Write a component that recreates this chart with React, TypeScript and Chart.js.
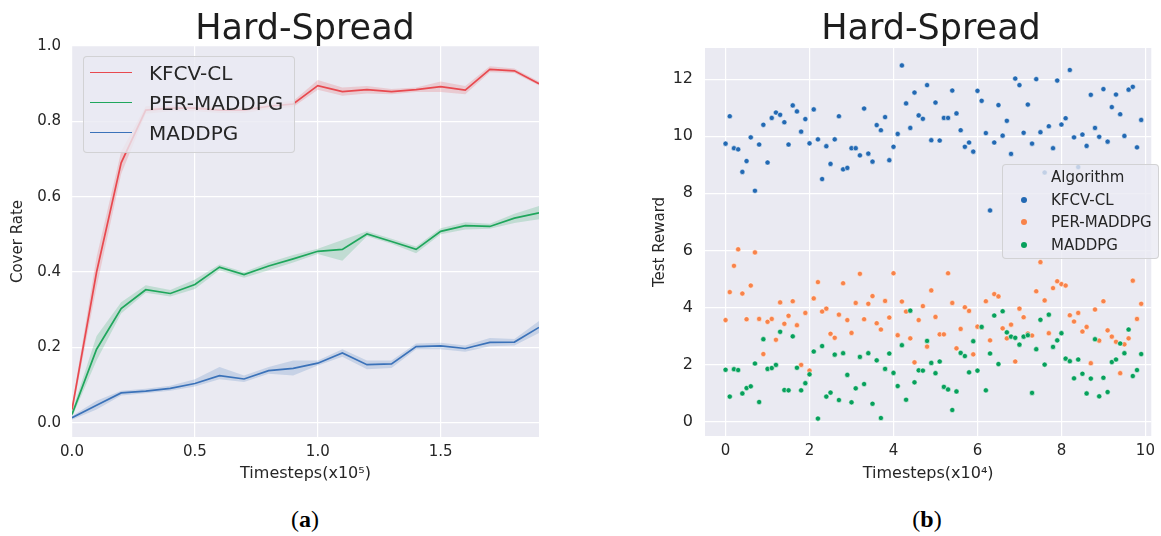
import React, { useEffect, useRef } from "react";
import { Chart, registerables } from "chart.js";

Chart.register(...registerables);

// ---------- Panel (a): Cover Rate vs timesteps (x10^5) ----------
const timestepsA = [0, 0.1, 0.2, 0.3, 0.4, 0.5, 0.6, 0.7, 0.8, 0.9, 1.0, 1.1, 1.2, 1.3, 1.4, 1.5, 1.6, 1.7, 1.8, 1.9];

const kfcvMean = [0.035, 0.40, 0.69, 0.83, 0.835, 0.835, 0.83, 0.83, 0.84, 0.846, 0.895, 0.879, 0.884, 0.879, 0.884, 0.892, 0.883, 0.938, 0.934, 0.90];
const kfcvLow = [0.025, 0.36, 0.66, 0.82, 0.827, 0.827, 0.822, 0.822, 0.832, 0.838, 0.884, 0.868, 0.874, 0.872, 0.878, 0.878, 0.872, 0.93, 0.928, 0.895];
const kfcvHigh = [0.045, 0.44, 0.72, 0.84, 0.843, 0.843, 0.838, 0.838, 0.848, 0.854, 0.91, 0.89, 0.894, 0.886, 0.89, 0.906, 0.894, 0.946, 0.94, 0.906];

const perMean = [0.022, 0.195, 0.303, 0.353, 0.343, 0.367, 0.413, 0.393, 0.416, 0.435, 0.455, 0.46, 0.501, 0.481, 0.46, 0.508, 0.523, 0.521, 0.543, 0.557];
const perLow = [0.015, 0.165, 0.29, 0.345, 0.335, 0.355, 0.405, 0.385, 0.405, 0.425, 0.448, 0.43, 0.495, 0.475, 0.45, 0.50, 0.513, 0.515, 0.53, 0.54];
const perHigh = [0.03, 0.23, 0.32, 0.365, 0.352, 0.38, 0.42, 0.40, 0.425, 0.445, 0.462, 0.485, 0.508, 0.488, 0.468, 0.516, 0.532, 0.528, 0.555, 0.575];

const maddpgMean = [0.013, 0.046, 0.079, 0.084, 0.091, 0.104, 0.125, 0.116, 0.138, 0.144, 0.158, 0.185, 0.154, 0.156, 0.202, 0.204, 0.197, 0.213, 0.214, 0.253];
const maddpgLow = [0.008, 0.035, 0.072, 0.078, 0.085, 0.096, 0.115, 0.108, 0.13, 0.125, 0.152, 0.175, 0.142, 0.145, 0.195, 0.195, 0.188, 0.203, 0.205, 0.238];
const maddpgHigh = [0.018, 0.058, 0.085, 0.09, 0.098, 0.115, 0.148, 0.125, 0.148, 0.165, 0.165, 0.195, 0.165, 0.165, 0.21, 0.212, 0.205, 0.225, 0.222, 0.27];

// ---------- Panel (b): Test Reward scatter vs timesteps (x10^4) ----------
const rewardSteps = [
  0, 0.1, 0.2, 0.3, 0.4, 0.5, 0.6, 0.7, 0.8, 0.9,
  1.0, 1.1, 1.2, 1.3, 1.4, 1.5, 1.6, 1.7, 1.8, 1.9,
  2.0, 2.1, 2.2, 2.3, 2.4, 2.5, 2.6, 2.7, 2.8, 2.9,
  3.0, 3.1, 3.2, 3.3, 3.4, 3.5, 3.6, 3.7, 3.8, 3.9,
  4.0, 4.1, 4.2, 4.3, 4.4, 4.5, 4.6, 4.7, 4.8, 4.9,
  5.0, 5.1, 5.2, 5.3, 5.4, 5.5, 5.6, 5.7, 5.8, 5.9,
  6.0, 6.1, 6.2, 6.3, 6.4, 6.5, 6.6, 6.7, 6.8, 6.9,
  7.0, 7.1, 7.2, 7.3, 7.4, 7.5, 7.6, 7.7, 7.8, 7.9,
  8.0, 8.1, 8.2, 8.3, 8.4, 8.5, 8.6, 8.7, 8.8, 8.9,
  9.0, 9.1, 9.2, 9.3, 9.4, 9.5, 9.6, 9.7, 9.8, 9.9,
];

const kfcvReward = [
  9.74, 10.70, 9.58, 9.54, 8.75, 9.13, 9.96, 8.09, 9.71, 10.40,
  9.08, 10.64, 10.83, 10.75, 10.49, 9.71, 11.08, 10.87, 10.16, 10.60,
  9.75, 10.94, 9.89, 8.50, 9.65, 9.03, 9.89, 10.70, 8.84, 8.89,
  9.58, 9.58, 9.33, 10.97, 9.39, 9.11, 10.39, 10.21, 10.67, 9.16,
  9.63, 10.08, 12.48, 11.15, 10.29, 11.53, 10.73, 10.61, 11.79, 9.86,
  11.18, 9.85, 10.64, 10.64, 11.60, 10.80, 10.21, 9.63, 9.78, 9.46,
  11.59, 11.24, 10.11, 7.40, 9.78, 11.09, 10.02, 10.54, 9.38, 12.02,
  11.79, 10.12, 11.11, 9.74, 12.00, 10.14, 8.73, 10.35, 9.58, 11.95,
  10.41, 10.63, 12.32, 9.96, 8.92, 10.06, 9.66, 11.45, 10.29, 9.98,
  11.65, 9.81, 11.02, 11.46, 10.77, 10.01, 11.63, 11.73, 9.61, 10.57,
];

const perReward = [
  3.56, 4.54, 5.46, 6.04, 4.49, 3.59, 4.77, 5.93, 3.60, 2.37,
  3.50, 3.60, 2.87, 4.18, 3.43, 3.71, 4.22, 3.38, 1.99, 3.81,
  1.79, 4.32, 4.89, 3.86, 3.96, 3.08, 2.94, 3.75, 4.85, 3.56,
  3.11, 4.16, 5.18, 3.59, 4.13, 4.40, 3.45, 3.23, 4.23, 3.65,
  5.20, 3.03, 4.21, 3.86, 2.92, 2.08, 3.56, 4.05, 2.63, 4.60,
  3.67, 3.06, 3.06, 5.20, 4.16, 2.57, 3.25, 4.01, 3.88, 2.36,
  3.33, 3.30, 4.22, 2.85, 4.47, 4.39, 3.27, 2.92, 3.40, 2.11,
  3.96, 3.66, 3.09, 3.02, 4.57, 5.59, 4.25, 3.10, 4.68, 4.92,
  4.82, 4.77, 3.73, 3.51, 3.81, 3.16, 3.32, 2.05, 3.93, 2.84,
  4.22, 3.20, 2.98, 2.80, 1.70, 2.71, 2.92, 4.94, 3.60, 4.13,
];

const maddpgReward = [
  1.82, 0.88, 1.84, 1.81, 0.99, 1.18, 1.24, 2.04, 0.69, 2.89,
  1.85, 1.88, 1.99, 3.15, 1.11, 1.10, 2.99, 1.89, 1.10, 1.35,
  1.66, 2.46, 0.11, 2.65, 0.88, 1.02, 2.35, 0.76, 2.40, 1.64,
  0.68, 1.17, 2.27, 1.32, 2.40, 0.63, 2.15, 0.13, 1.85, 2.39,
  1.71, 1.25, 2.68, 0.77, 3.89, 1.38, 1.80, 1.79, 2.83, 2.06,
  1.70, 2.11, 1.22, 1.13, 0.41, 1.06, 2.41, 2.30, 1.73, 2.82,
  1.79, 3.32, 1.10, 2.39, 3.72, 2.02, 3.87, 3.13, 2.98, 2.94,
  2.70, 2.98, 3.03, 1.01, 2.54, 3.57, 2.00, 3.75, 2.62, 2.85,
  3.10, 2.21, 2.12, 1.52, 2.18, 1.68, 0.99, 1.51, 2.89, 0.89,
  1.54, 1.04, 2.09, 2.18, 2.74, 2.40, 3.23, 1.60, 1.81, 2.37,
];

const seriesNames = ["KFCV-CL", "PER-MADDPG", "MADDPG"];
const lineColors = ["#E8494F", "#1FA65C", "#3B72B9"];
const bandColors = ["rgba(232,73,79,0.2)", "rgba(31,166,92,0.2)", "rgba(59,114,185,0.2)"];
const dotColors = ["#2369B3", "#F8834A", "#07A05C"];

const TXT = "#262626";
const FONT = "DejaVu Sans";

const pts = (xs: number[], ys: number[]) => xs.map((x, i) => ({ x, y: ys[i] }));

const bgPlugin = {
  id: "plotBg",
  beforeDraw(chart: any) {
    const { ctx, chartArea: a } = chart;
    ctx.save();
    ctx.fillStyle = "#EAEAF2";
    ctx.fillRect(a.left, a.top, a.right - a.left, a.bottom - a.top);
    ctx.restore();
  },
};

export default function App() {
  const refA = useRef<HTMLCanvasElement>(null);
  const refB = useRef<HTMLCanvasElement>(null);

  useEffect(() => {
    const means = [kfcvMean, perMean, maddpgMean];
    const lows = [kfcvLow, perLow, maddpgLow];
    const highs = [kfcvHigh, perHigh, maddpgHigh];
    const lineSets: any[] = seriesNames.map((n, i) => ({
      label: n,
      data: pts(timestepsA, means[i]),
      borderColor: lineColors[i],
      borderWidth: 1.7,
      pointRadius: 0,
      tension: 0,
      fill: false,
      order: 1,
    }));
    const bandSets: any[] = [];
    seriesNames.forEach((n, i) => {
      bandSets.push({
        label: n + " upper",
        data: pts(timestepsA, highs[i]),
        borderWidth: 0,
        borderColor: "rgba(0,0,0,0)",
        backgroundColor: bandColors[i],
        pointRadius: 0,
        tension: 0,
        fill: "+1",
        order: 5,
      });
      bandSets.push({
        label: n + " lower",
        data: pts(timestepsA, lows[i]),
        borderWidth: 0,
        borderColor: "rgba(0,0,0,0)",
        pointRadius: 0,
        tension: 0,
        fill: false,
        order: 5,
      });
    });

    const chartA = new Chart(refA.current!, {
      type: "line",
      data: { datasets: [...lineSets, ...bandSets] },
      plugins: [bgPlugin],
      options: {
        animation: false,
        responsive: false,
        maintainAspectRatio: false,
        layout: { padding: { left: 0, top: 46, right: 580 - 539, bottom: 500 - 483 } },
        plugins: { legend: { display: false }, tooltip: { enabled: false }, title: { display: false } },
        scales: {
          x: {
            type: "linear",
            min: 0,
            max: 1.9,
            ticks: {
              stepSize: 0.5,
              includeBounds: false,
              padding: 6,
              color: TXT,
              font: { family: FONT, size: 15 },
              callback: (v: any) => Number(v).toFixed(1),
            },
            grid: { color: "#FFFFFF", lineWidth: 1.2, drawTicks: false },
            border: { display: false },
            title: { display: true, text: "Timesteps(x10\u2075)", color: TXT, font: { family: FONT, size: 16 }, padding: 0 },
            afterFit: (s: any) => { s.height = 46; },
          },
          y: {
            type: "linear",
            min: -0.038,
            max: 1.0,
            ticks: {
              stepSize: 0.2,
              includeBounds: false,
              padding: 11,
              color: TXT,
              font: { family: FONT, size: 15 },
              callback: (v: any) => Number(v).toFixed(1),
            },
            grid: { color: "#FFFFFF", lineWidth: 1.2, drawTicks: false },
            border: { display: false },
            title: { display: true, text: "Cover Rate", color: TXT, font: { family: FONT, size: 15 }, padding: { top: 9, bottom: 0 } },
            afterFit: (s: any) => { s.width = 72; },
          },
        },
      } as any,
    });

    const rewards = [kfcvReward, perReward, maddpgReward];
    const scatterSets: any[] = seriesNames.map((n, i) => ({
      label: n,
      data: pts(rewardSteps, rewards[i]),
      backgroundColor: dotColors[i],
      borderColor: "rgba(255,255,255,0.9)",
      borderWidth: 0.6,
      pointRadius: 2.6,
      order: 3 - i,
    }));

    const chartB = new Chart(refB.current!, {
      type: "scatter",
      data: { datasets: scatterSets },
      plugins: [bgPlugin],
      options: {
        animation: false,
        responsive: false,
        maintainAspectRatio: false,
        layout: { padding: { left: 66, top: 48, right: 3, bottom: 500 - 483 } },
        plugins: { legend: { display: false }, tooltip: { enabled: false }, title: { display: false } },
        scales: {
          x: {
            type: "linear",
            min: -0.49,
            max: 10.14,
            ticks: { stepSize: 2, includeBounds: false, padding: 6, color: TXT, font: { family: FONT, size: 15 } },
            grid: { color: "#FFFFFF", lineWidth: 1.2, drawTicks: false },
            border: { display: false },
            title: { display: true, text: "Timesteps(x10\u2074)", color: TXT, font: { family: FONT, size: 16 }, padding: 0 },
            afterFit: (s: any) => { s.height = 47; },
          },
          y: {
            type: "linear",
            min: -0.5,
            max: 13.09,
            ticks: { stepSize: 2, includeBounds: false, padding: 12, color: TXT, font: { family: FONT, size: 16 } },
            grid: { color: "#FFFFFF", lineWidth: 1.2, drawTicks: false },
            border: { display: false },
            title: { display: true, text: "Test Reward", color: TXT, font: { family: FONT, size: 15 }, padding: { top: 5, bottom: 0 } },
            afterFit: (s: any) => { s.width = 59; },
          },
        },
      } as any,
    });

    return () => {
      chartA.destroy();
      chartB.destroy();
    };
  }, []);

  const abs = (o: any) => ({ position: "absolute", ...o } as React.CSSProperties);

  return (
    <div style={abs({ left: 0, top: 0, width: 1161, height: 536, background: "#FFFFFF", overflow: "hidden", fontFamily: FONT })}>
      <canvas ref={refA} width={580} height={500} style={abs({ left: 0, top: 0 })} />
      <canvas ref={refB} width={581} height={500} style={abs({ left: 580, top: 0 })} />

      <div style={abs({ left: 155, top: 6, width: 300, textAlign: "center", fontSize: 35, lineHeight: "42px", color: "#1E1E1E" })}>Hard-Spread</div>
      <div style={abs({ left: 781, top: 6, width: 300, textAlign: "center", fontSize: 35, lineHeight: "42px", color: "#1E1E1E" })}>Hard-Spread</div>

      {/* Legend (a) */}
      <div style={abs({ left: 83, top: 56, width: 210, height: 95, background: "rgba(234,234,242,0.8)", border: "1px solid rgba(204,204,204,0.8)", borderRadius: 4 })} />
      {seriesNames.map((n, i) => (
        <React.Fragment key={n}>
          <div style={abs({ left: 90, top: 72 + i * 30, width: 42, height: 0, borderTop: `1.7px solid ${lineColors[i]}` })} />
          <div style={abs({ left: 149, top: 61 + i * 30, fontSize: 20, lineHeight: "24px", color: TXT, whiteSpace: "nowrap" })}>{n}</div>
        </React.Fragment>
      ))}

      {/* Legend (b) */}
      <div style={abs({ left: 1002, top: 164, width: 155, height: 93, background: "rgba(234,234,242,0.8)", border: "1px solid rgba(204,204,204,0.8)", borderRadius: 4 })} />
      <div style={abs({ left: 1051, top: 168, fontSize: 15, lineHeight: "18px", color: TXT, whiteSpace: "nowrap" })}>Algorithm</div>
      {seriesNames.map((n, i) => (
        <React.Fragment key={n}>
          <div style={abs({ left: 1021, top: 197 + i * 22.3, width: 6, height: 6, borderRadius: 3, background: dotColors[i] })} />
          <div style={abs({ left: 1051, top: 191 + i * 22.3, fontSize: 15, lineHeight: "18px", color: TXT, whiteSpace: "nowrap" })}>{n}</div>
        </React.Fragment>
      ))}

      {/* Captions */}
      <div style={abs({ left: 255, top: 505, width: 100, textAlign: "center", fontFamily: "Liberation Serif", fontSize: 24, lineHeight: "28px", color: "#000" })}>(<b>a</b>)</div>
      <div style={abs({ left: 877, top: 505, width: 100, textAlign: "center", fontFamily: "Liberation Serif", fontSize: 24, lineHeight: "28px", color: "#000" })}>(<b>b</b>)</div>
    </div>
  );
}
